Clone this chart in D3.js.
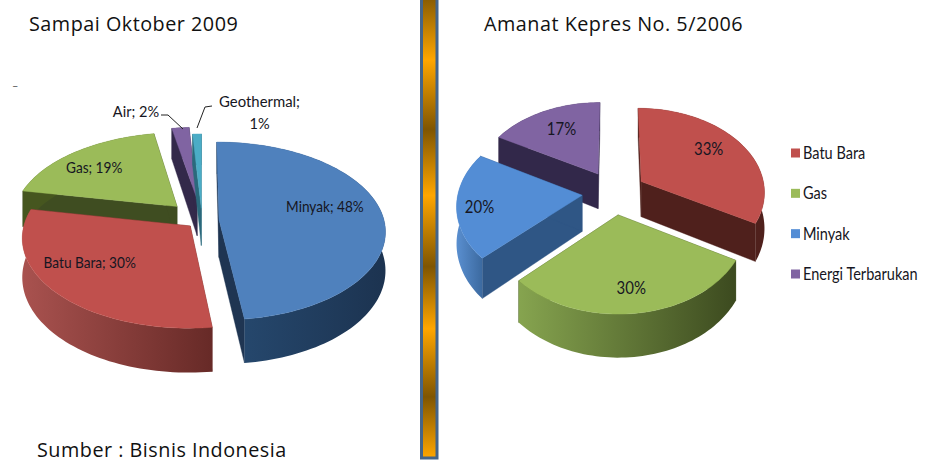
<!DOCTYPE html>
<html><head><meta charset="utf-8">
<script src="https://cdn.jsdelivr.net/npm/d3@7"></script>
<style>html,body{margin:0;padding:0;background:#fff;overflow:hidden}svg{display:block}</style>
</head><body><svg id="c" width="925" height="463"></svg>
<script>
// ---- data ----
const leftCategories = ["Minyak","Batu Bara","Gas","Air","Geothermal"];
const leftValues = [48,30,19,2,1];
const rightCategories = ["Batu Bara","Gas","Minyak","Energi Terbarukan"];
const rightValues = [33,30,20,17];
const legendLabels = ["Batu Bara","Gas","Minyak","Energi Terbarukan"];
const titleLeft = "Sampai Oktober 2009";
const titleRight = "Amanat Kepres No. 5/2006";
const source = "Sumber : Bisnis Indonesia";

// ---- styles / layout ----
const LABEL_FONT = "Lato, 'Open Sans', sans-serif";
const TITLE_FONT = "'Open Sans', 'Noto Sans', sans-serif";
const leftCfg = {cx:202,cy:220,R:165,k:0.54,p:0.13,d0:38,d1:6,
  explode:[17,16,36,40,22],
  top:["#4f81bd","#c0504d","#9bbb59","#8064a2","#4bacc6"],
  radial:["#1f3552","#672b28","#3f4d21","#33294a","#2a6a7c"],
  wall:[["#274b72","#1c3350"],["#a9524f","#672a27"],["#46561f","#46561f"],["#33294a","#33294a"],["#2a6a7c","#2a6a7c"]],
  label:[[77,.675],[236,.69],[311,.74]],labelFs:15.5,labelSx:.88};
const rightCfg = {cx:614,cy:192.5,R:124,k:0.686,p:0.11,d0:36,d1:6,
  explode:[32,32,32,32],
  top:["#c0504d","#9bbb59","#538dd5","#8064a2"],
  radial:["#4f201c","#41501f","#2f5685","#32284a"],
  wall:[["#4f201c","#4f201c"],["#86a44f","#3c4a1f"],["#5a8fd0","#3c6aa0"],["#32284a","#32284a"]],
  label:[[55,.72],[173,.76],[261,.82],[331,.69]],labelFs:18,labelSx:.83};
const textFill = "#161622";

const svg = d3.select("#c");
const defs = svg.append("defs");

function project(c,u,v,z){
  const s = 1 + c.p*v/c.R;
  const depth = c.d0 + c.d1*v/c.R;
  return [c.cx + u*s, c.cy + c.k*v*s + z*depth];
}
function drawPie(id,values,c){
  const arcs = d3.pie().sort(null).value(d=>d)(values);
  const g = svg.append("g");
  const line = d3.line();
  const slices = arcs.map((a,i)=>{
    const mid=(a.startAngle+a.endAngle)/2;
    const e=c.explode[i];
    return {a,i,mid,ou:Math.sin(mid)*e,ov:-Math.cos(mid)*e};
  }).sort((x,y)=>y.ov<x.ov?1:-1);
  const byIndex=[];
  slices.forEach(sl=>{
    const {a,i,ou,ov}=sl; byIndex[i]=sl;
    const n=Math.max(2,Math.ceil((a.endAngle-a.startAngle)/0.03));
    const ang=d3.range(n+1).map(j=>a.startAngle+(a.endAngle-a.startAngle)*j/n);
    const rim=z=>ang.map(t=>project(c,ou+c.R*Math.sin(t),ov-c.R*Math.cos(t),z));
    const apex=z=>project(c,ou,ov,z);
    const gid=id+"w"+i;
    const xs=rim(1).map(p=>p[0]);
    const gr=defs.append("linearGradient").attr("id",gid).attr("gradientUnits","userSpaceOnUse")
      .attr("x1",d3.min(xs)).attr("x2",d3.max(xs)).attr("y1",0).attr("y2",0);
    gr.append("stop").attr("offset",0).attr("stop-color",c.wall[i][0]);
    gr.append("stop").attr("offset",1).attr("stop-color",c.wall[i][1]);
    const r0=rim(0), r1=rim(1);
    [[r0[0],r1[0]],[r0[n],r1[n]]].forEach(([p0,p1])=>{
      g.append("path").attr("d",line([apex(0),p0,p1,apex(1)])+"Z").attr("fill",c.radial[i]).attr("stroke",c.radial[i]).attr("stroke-width",.4);
    });
    g.append("path").attr("d",line(r0.concat(r1.slice().reverse()))+"Z").attr("fill",`url(#${gid})`);
    g.append("path").attr("d",line([apex(0)].concat(r0))+"Z").attr("fill",c.top[i]).attr("stroke",c.top[i]).attr("stroke-width",.4);
  });
  return byIndex;
}
function narrowText(x,y,text,fs,sx,anchor){
  return svg.append("text").attr("transform",`translate(${x},${y}) scale(${sx},1)`)
    .attr("text-anchor",anchor||"middle").attr("font-family",LABEL_FONT)
    .attr("font-size",fs).attr("fill",textFill).text(text);
}
function labelAt(c,sl,deg,f,text){
  const t=deg*Math.PI/180;
  const p=project(c,sl.ou+c.R*f*Math.sin(t),sl.ov-c.R*f*Math.cos(t),0);
  narrowText(p[0],p[1]+c.labelFs*.35,text,c.labelFs,c.labelSx);
}
// separator bar
const barStops=[[0,"#875b03"],[62,"#ffa600"],[131,"#7f5502"],[197,"#ffa600"],[268,"#7f5502"],[330,"#ffa600"],[398,"#7f5502"],[459,"#ffa600"]];
const bg=defs.append("linearGradient").attr("id","bar").attr("x1",0).attr("x2",0).attr("y1",0).attr("y2",1);
barStops.forEach(s=>bg.append("stop").attr("offset",s[0]/459).attr("stop-color",s[1]));
svg.append("rect").attr("x",421.5).attr("y",-2).attr("width",15.5).attr("height",460)
  .attr("fill","url(#bar)").attr("stroke","#44658a").attr("stroke-width",3);

const L=drawPie("l",leftValues,leftCfg);
const R=drawPie("r",rightValues,rightCfg);

leftCfg.label.forEach((l,i)=>labelAt(leftCfg,L[i],l[0],l[1],`${leftCategories[i]}; ${leftValues[i]}%`));
rightCfg.label.forEach((l,i)=>labelAt(rightCfg,R[i],l[0],l[1],`${rightValues[i]}%`));

// outside labels with leaders
narrowText(136,117,`${leftCategories[3]}; ${leftValues[3]}%`,15.5,.94);
narrowText(259.5,107,`${leftCategories[4]};`,15.5,.96);
narrowText(259.5,129,`${leftValues[4]}%`,15.5,.94);
const lead=d3.line();
[[[161,115],[168,115],[183,129]],[[212,106],[205,107],[197,128]]].forEach(p=>
  svg.append("path").attr("d",lead(p)).attr("fill","none").attr("stroke","#222").attr("stroke-width",1));

// titles
const ttl=(x,y,t)=>svg.append("text").attr("x",x).attr("y",y).attr("font-family",TITLE_FONT).attr("font-size",19.8).attr("fill","#111").attr("letter-spacing",.5).text(t);
ttl(29,31,titleLeft);
ttl(484,31,titleRight);
ttl(37,457,source);
svg.append("text").attr("x",12).attr("y",90).attr("font-family",LABEL_FONT).attr("font-size",11).attr("fill","#555").text("–");

// legend
const ly=d3.scalePoint().domain(legendLabels).range([153,274]);
legendLabels.forEach((t,i)=>{
  svg.append("rect").attr("x",791).attr("y",ly(t)-4.5).attr("width",9).attr("height",9).attr("fill",rightCfg.top[i]);
  narrowText(803,ly(t)+6,t,17.5,.83,"start");
});
</script></body></html>
